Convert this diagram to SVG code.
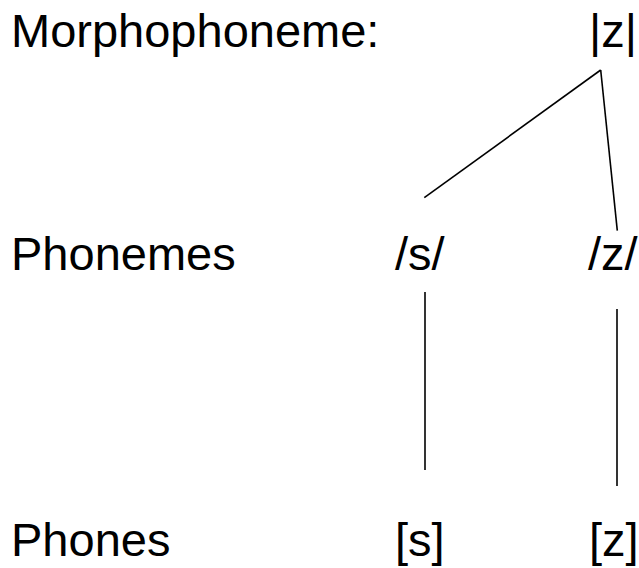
<svg xmlns="http://www.w3.org/2000/svg" width="639" height="568" viewBox="0 0 639 568">
<style>
text { font-family: "Liberation Sans", Arial, sans-serif; font-size: 47px; fill: #000; }
.c { stroke: #000; stroke-width: 1.6; fill: none; }
</style>
<rect width="639" height="568" fill="#fff"/>
<g id="label-morphophoneme"><text x="11" y="47">Morphophoneme:</text></g>
<g id="label-phonemes"><text x="11" y="270">Phonemes</text></g>
<g id="label-phones"><text x="11" y="556">Phones</text></g>
<g id="node-morph-z"><text x="589" y="47">|z|</text></g>
<g id="node-phoneme-s"><text x="395" y="270">/s/</text></g>
<g id="node-phoneme-z"><text x="588" y="270">/z/</text></g>
<g id="node-phone-s"><text x="395" y="556">[s]</text></g>
<g id="node-phone-z"><text x="589" y="556">[z]</text></g>
<g id="connectors">
<line class="c" x1="600.7" y1="70" x2="424.3" y2="197.7"/>
<line class="c" x1="600.7" y1="70" x2="617.3" y2="230.7"/>
<line class="c" x1="425" y1="292" x2="425" y2="470"/>
<line class="c" x1="617" y1="309" x2="617" y2="486"/>
</g>
</svg>
